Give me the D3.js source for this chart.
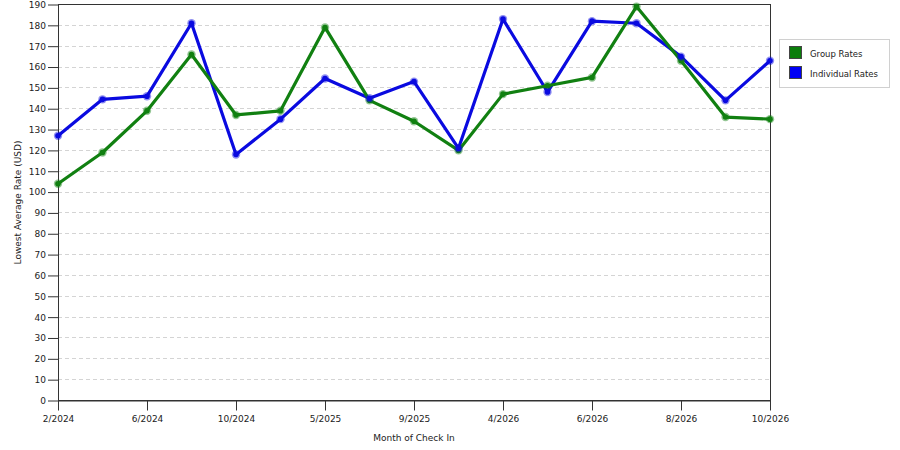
<!DOCTYPE html>
<html>
<head>
<meta charset="utf-8">
<script src="https://cdn.jsdelivr.net/npm/d3@7"></script>
<style>
  body { margin: 0; background: #fff; }
  svg { display: block; }
  text { font-family: "DejaVu Sans", Verdana, sans-serif; font-size: 9px; fill: #222; }
</style>
</head>
<body>
<svg id="chart" width="900" height="450"></svg>
<script>
// months of check in (every other one is labelled on the axis)
let months = ["2/2024", "4/2024", "6/2024", "8/2024", "10/2024", "12/2024", "5/2025", "7/2025",
              "9/2025", "12/2025", "4/2026", "5/2026", "6/2026", "7/2026", "8/2026", "9/2026", "10/2026"];
let groupRates = [104, 119, 139, 166, 137, 139, 179, 144, 134, 120, 147, 151, 155, 189, 163, 136, 135];
let individualRates = [127, 144.5, 146, 181, 118, 135, 154.5, 145, 153, 121, 183, 148, 182, 181, 165, 144, 163];
let yTicks = d3.range(0, 191, 10);
let seriesNames = ["Group Rates", "Individual Rates"];
let seriesColors = ["#118011", "#0a0ae0"];

let svg = d3.select("#chart");
let plotLeft = 58, plotRight = 770, plotTop = 4.5, plotBottom = 400.5;

let x = d3.scalePoint().domain(months).range([plotLeft, plotRight]);
let y = d3.scaleLinear().domain([0, 190]).range([plotBottom, plotTop]);

// grid lines
svg.append("g")
  .selectAll("line")
  .data(yTicks.filter(d => d > 0 && d < 190))
  .enter().append("line")
  .attr("x1", plotLeft).attr("x2", plotRight)
  .attr("y1", d => y(d)).attr("y2", d => y(d))
  .attr("stroke", "#d4d4d4")
  .attr("stroke-dasharray", "4,3")
  .attr("shape-rendering", "crispEdges");

// frame
svg.append("rect")
  .attr("x", plotLeft).attr("y", plotTop)
  .attr("width", plotRight - plotLeft).attr("height", plotBottom - plotTop)
  .attr("fill", "none").attr("stroke", "#333")
  .attr("shape-rendering", "crispEdges");

// y axis
let yAxis = svg.append("g")
  .attr("transform", `translate(${plotLeft},0)`)
  .call(d3.axisLeft(y).tickValues(yTicks).tickSize(10).tickPadding(2).tickSizeOuter(0));
yAxis.select(".domain").attr("stroke", "#333");
yAxis.selectAll(".tick line").attr("stroke", "#333");
yAxis.selectAll("text").attr("fill", "#222").style("font-size", "9px");
yAxis.attr("font-family", null).attr("font-size", null);

// x axis
let xAxis = svg.append("g")
  .attr("transform", `translate(0,${plotBottom})`)
  .call(d3.axisBottom(x).tickValues(months.filter((m, i) => i % 2 == 0)).tickSize(10).tickPadding(5).tickSizeOuter(0));
xAxis.select(".domain").attr("stroke", "#333");
xAxis.selectAll(".tick line").attr("stroke", "#333");
xAxis.selectAll("text").attr("fill", "#222").style("font-size", "9px");
xAxis.attr("font-family", null).attr("font-size", null);

// axis titles
svg.append("text")
  .attr("x", (plotLeft + plotRight) / 2).attr("y", 441)
  .attr("text-anchor", "middle")
  .text("Month of Check In");
svg.append("text")
  .attr("transform", `translate(21,${(plotTop + plotBottom) / 2}) rotate(-90)`)
  .attr("text-anchor", "middle")
  .text("Lowest Average Rate (USD)");

// lines
let line = d3.line().x((d, i) => x(months[i])).y(d => y(d));
let allSeries = [groupRates, individualRates];
for (let k of [1, 0]) {
  svg.append("path")
    .datum(allSeries[k])
    .attr("d", line)
    .attr("fill", "none")
    .attr("stroke", seriesColors[k])
    .attr("stroke-width", 3.2)
    .attr("stroke-linejoin", "round");
}
// markers
for (let k of [0, 1]) {
  let g = svg.append("g");
  g.selectAll("circle.halo")
    .data(allSeries[k]).enter()
    .append("circle")
    .attr("cx", (d, i) => x(months[i])).attr("cy", d => y(d))
    .attr("r", 4.2)
    .attr("fill", seriesColors[k]).attr("opacity", 0.45);
  g.selectAll("circle.dot")
    .data(allSeries[k]).enter()
    .append("circle")
    .attr("cx", (d, i) => x(months[i])).attr("cy", d => y(d))
    .attr("r", 2.8)
    .attr("fill", seriesColors[k]);
}

// legend
let legend = svg.append("g");
legend.append("rect")
  .attr("x", 779.5).attr("y", 39.5).attr("width", 110).attr("height", 48)
  .attr("fill", "#fff").attr("stroke", "#d0d0d0");
seriesNames.forEach((name, i) => {
  legend.append("rect")
    .attr("x", 789.5).attr("y", 46.5 + i * 20).attr("width", 12).attr("height", 12)
    .attr("fill", i == 0 ? "#0b7d0b" : "#0000f5").attr("stroke", "#444");
  legend.append("text")
    .attr("x", 810).attr("y", 57 + i * 20)
    .style("font-size", "8.5px")
    .text(name);
});
</script>
</body>
</html>
